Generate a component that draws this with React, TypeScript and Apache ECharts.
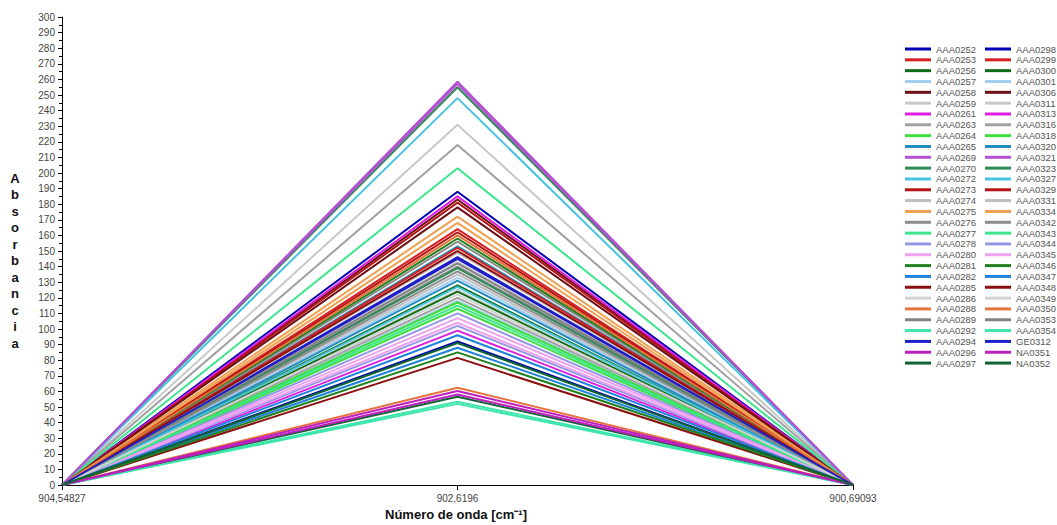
import React, { useEffect, useRef } from "react";
import * as echarts from "echarts";

const categories = ["904,54827", "902,6196", "900,69093"];

const namesCol1 = [
  "AAA0252", "AAA0253", "AAA0256", "AAA0257", "AAA0258", "AAA0259", "AAA0261", "AAA0263", "AAA0264", "AAA0265",
  "AAA0269", "AAA0270", "AAA0272", "AAA0273", "AAA0274", "AAA0275", "AAA0276", "AAA0277", "AAA0278", "AAA0280",
  "AAA0281", "AAA0282", "AAA0285", "AAA0286", "AAA0288", "AAA0289", "AAA0292", "AAA0294", "AAA0296", "AAA0297",
];
const namesCol2 = [
  "AAA0298", "AAA0299", "AAA0300", "AAA0301", "AAA0306", "AAA0311", "AAA0313", "AAA0316", "AAA0318", "AAA0320",
  "AAA0321", "AAA0323", "AAA0327", "AAA0329", "AAA0331", "AAA0334", "AAA0342", "AAA0343", "AAA0344", "AAA0345",
  "AAA0346", "AAA0347", "AAA0348", "AAA0349", "AAA0350", "AAA0353", "AAA0354", "GE0312", "NA0351", "NA0352",
];

// peak absorbance at 902,6196 (ends are 0)
const peaksCol1 = [
  188, 164, 128, 118, 183, 231, 185, 218, 113, 153,
  258.5, 255, 248, 181, 135, 172, 156, 203, 110, 107,
  158, 88, 81.5, 125, 62.4, 140, 53.4, 146, 60.3, 56.6,
];
const peaksCol2 = [
  92, 152, 124, 133, 178, 143, 99, 120, 117, 131,
  257, 139, 127, 162, 149, 168, 137, 115, 102, 104,
  85, 96, 150, 122, 160, 142, 52, 145, 58, 91,
];

const palette = [
  "#0000b4", "#d62020", "#0f6e14", "#a6ccef", "#6e0f14", "#c8c8c8", "#e01ee0", "#a0a0a0", "#3ce03c", "#1e8cbe",
  "#b450d2", "#2d8c5a", "#46c3e1", "#b41414", "#bebebe", "#f0a050", "#8c8c8c", "#3ce68c", "#9696e6", "#f0a0f0",
  "#1e821e", "#1e82dc", "#8c0f0f", "#d2d2d2", "#e6733c", "#828282", "#3ce6aa", "#1e1ec8", "#be1ebe", "#0f6432",
];

export default function App() {
  const ref = useRef<HTMLDivElement>(null);
  useEffect(() => {
    if (!ref.current) return;
    const chart = echarts.init(ref.current, undefined, { renderer: "svg" });
    const series: any[] = [];
    const build = (names: string[], peaks: number[]) => {
      names.forEach((n, i) => {
        series.push({
          name: n,
          type: "line",
          data: [0, peaks[i], 0],
          symbol: "none",
          lineStyle: { width: 2, color: palette[i] },
          itemStyle: { color: palette[i] },
        });
      });
    };
    build(namesCol1, peaksCol1);
    build(namesCol2, peaksCol2);

    const legendBase = {
      orient: "vertical",
      top: 44,
      padding: 0,
      icon: "rect",
      itemWidth: 26,
      itemHeight: 3,
      itemGap: 0.83,
      textStyle: { fontSize: 9.5, lineHeight: 10, color: "#555", fontFamily: "Liberation Sans" },
      selectedMode: false,
    };

    chart.setOption({
      animation: false,
      backgroundColor: "#fff",
      grid: { left: 62, right: 204, top: 17, bottom: 40 },
      legend: [
        { ...legendBase, left: 905, data: namesCol1 },
        { ...legendBase, left: 985, data: namesCol2 },
      ],
      xAxis: {
        type: "category",
        data: categories,
        boundaryGap: false,
        axisLine: { lineStyle: { color: "#000", width: 1 } },
        axisTick: { show: true, length: 5, lineStyle: { color: "#000" } },
        axisLabel: { fontSize: 10, color: "#444", fontFamily: "Liberation Sans", margin: 8 },
        splitLine: { show: false },
      },
      yAxis: {
        type: "value",
        min: 0,
        max: 300,
        interval: 10,
        axisLine: { show: true, lineStyle: { color: "#000", width: 1 } },
        axisTick: { show: true, length: 4, lineStyle: { color: "#000" } },
        minorTick: { show: true, splitNumber: 2, length: 3, lineStyle: { color: "#000" } },
        axisLabel: { fontSize: 10, color: "#444", fontFamily: "Liberation Sans", margin: 7 },
        splitLine: { show: false },
      },
      graphic: [
        {
          type: "text",
          x: 15,
          y: 170,
          style: {
            text: "A\nb\ns\no\nr\nb\na\nn\nc\ni\na",
            font: "bold 13px 'Liberation Sans'",
            fill: "#111",
            lineHeight: 16.5,
            align: "center",
          },
        },
        {
          type: "text",
          x: 456,
          y: 508,
          style: {
            text: "Número de onda [cm⁻¹]",
            font: "bold 13px 'Liberation Sans'",
            fill: "#111",
            align: "center",
          },
        },
      ],
      series,
    });
    return () => chart.dispose();
  }, []);
  return <div ref={ref} style={{ position: "absolute", left: 0, top: 0, width: 1057, height: 525 }} />;
}
